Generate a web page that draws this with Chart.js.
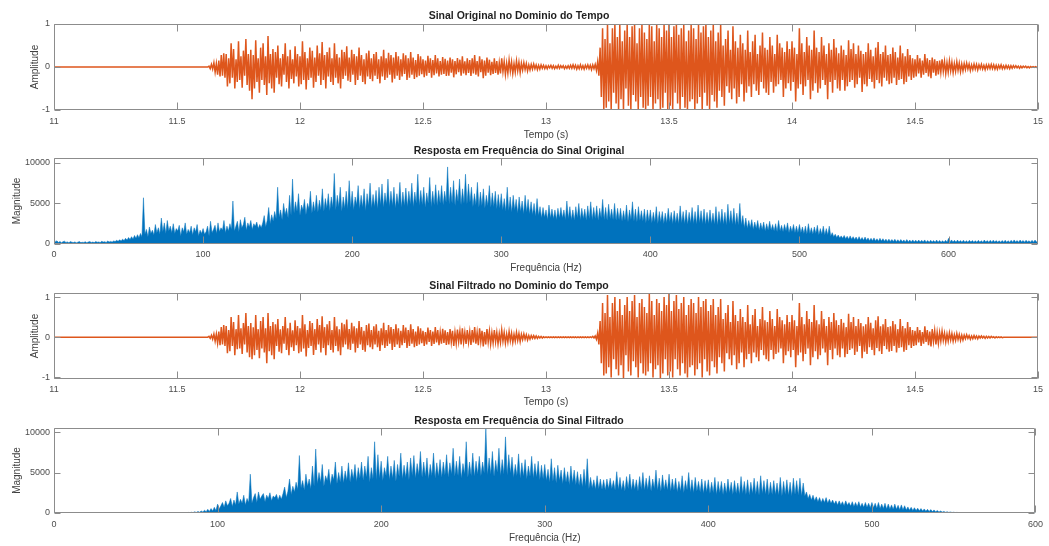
<!DOCTYPE html>
<html>
<head>
<meta charset="utf-8">
<title>Sinal Original e Filtrado</title>
<script src="https://cdn.jsdelivr.net/npm/chart.js@4.4.1/dist/chart.umd.min.js"></script>
<style>
  html, body { margin: 0; padding: 0; background: #fff; }
  #wrap { position: relative; width: 1049px; height: 546px; overflow: hidden; }
  canvas { position: absolute; left: 0; }
</style>
</head>
<body>
<div id="wrap">
  <canvas id="c1" width="1049" height="145" style="top:0px"></canvas>
  <canvas id="c2" width="1049" height="140" style="top:140px"></canvas>
  <canvas id="c3" width="1049" height="135" style="top:275px"></canvas>
  <canvas id="c4" width="1049" height="146" style="top:400px"></canvas>
</div>
<script>
// sample grids (time in s, frequency in Hz)
var tStart = 11, tStep = 0.005;
var fStart = 0, fStep = 1;

// tick labels
var timeTicks = [11, 11.5, 12, 12.5, 13, 13.5, 14, 14.5, 15];
var ampTicks = [-1, 0, 1];
var freqTicks = [0, 100, 200, 300, 400, 500, 600];
var magTicks = [0, 5000, 10000];

// time signal, 11.000 .. 15.000 s
var sinalOriginal = [
  0,0,0,0,0,0,0,0,0,0,0,0,0,0,0,0,0,0,0,0,
  0,0,0,0,0,0,0,0,0,0,0,0,0,0,0,0,0,0,0,0,
  0,0,0,0,0,0,0,0,0,0,0,0,0,0,0,0,0,0,0,0,
  0,0,0,0,0,0,0,0,0,0,0,0,0,0,0,0,0,0,0,0,
  0,0,0,0,0,0,0,0,0,0,0,0,0,0,0,0,0,0,0,0,
  0,0,0,0,0,0,0,0,0,0,0,0,0,0,0,0,0,0,0,0,
  0,0,0,0,0,0,
  0.02,-0.04,0.06,-0.05,0.1,-0.12,0.08,-0.18,0.15,-0.22,0.28,-0.2,0.32,-0.25,
  0.3,-0.45,0.2,-0.38,0.55,-0.25,0.42,-0.5,0.18,-0.35,0.6,-0.3,0.25,-0.48,0.38,-0.2,0.65,-0.42,0.3,-0.55,
  0.4,-0.75,0.28,-0.5,0.62,-0.35,0.2,-0.6,0.45,-0.3,0.55,-0.42,0.25,-0.65,0.72,-0.38,0.3,-0.5,0.42,-0.6,
  0.35,-0.25,0.5,-0.4,0.2,-0.45,0.3,-0.18,0.55,-0.35,0.25,-0.5,0.4,-0.28,0.18,-0.38,0.48,-0.22,0.3,-0.45,
  0.25,-0.4,0.6,-0.3,0.35,-0.52,0.2,-0.3,0.45,-0.25,0.38,-0.48,0.22,-0.35,0.5,-0.2,0.32,-0.42,0.58,-0.3,
  0.28,-0.5,0.35,-0.22,0.45,-0.35,0.2,-0.42,0.55,-0.25,0.3,-0.38,0.22,-0.5,0.4,-0.28,0.35,-0.2,0.48,-0.32,
  0.22,-0.35,0.4,-0.18,0.3,-0.42,0.25,-0.3,0.45,-0.2,0.28,-0.35,0.18,-0.4,0.32,-0.22,0.38,-0.28,0.2,-0.33,
  0.3,-0.2,0.35,-0.28,0.18,-0.38,0.25,-0.22,0.4,-0.3,0.2,-0.25,0.33,-0.18,0.28,-0.36,0.22,-0.27,0.35,-0.2,
  0.25,-0.3,0.18,-0.22,0.32,-0.16,0.27,-0.3,0.2,-0.25,0.35,-0.18,0.22,-0.28,0.16,-0.24,0.3,-0.2,0.25,-0.17,
  0.18,-0.24,0.15,-0.2,0.26,-0.14,0.2,-0.25,0.16,-0.19,0.28,-0.15,0.2,-0.22,0.14,-0.18,0.23,-0.16,0.19,-0.21,
  0.15,-0.2,0.22,-0.13,0.18,-0.24,0.14,-0.17,0.21,-0.12,0.17,-0.2,0.25,-0.15,0.13,-0.19,0.2,-0.14,0.16,-0.21,
  0.2,-0.15,0.28,-0.18,0.14,-0.22,0.25,-0.12,0.18,-0.26,0.15,-0.2,0.22,-0.13,0.17,-0.19,0.12,-0.16,0.2,-0.14,
  0.14,-0.18,0.1,-0.15,0.2,-0.11,0.13,-0.17,0.09,-0.14,0.16,-0.1,0.12,-0.15,0.08,-0.12,0.14,-0.09,0.11,-0.13,
  0.09,-0.07,0.1,-0.06,0.08,-0.09,0.05,-0.07,0.06,-0.05,0.07,-0.04,0.05,-0.06,0.04,-0.05,0.05,-0.03,0.04,-0.04,
  0.03,-0.04,0.03,-0.02,0.04,-0.03,0.03,-0.04,0.02,-0.03,0.04,-0.03,0.03,-0.02,0.03,-0.04,0.02,-0.03,0.03,-0.03,
  0.04,-0.03,0.05,-0.03,0.04,-0.05,0.03,-0.04,0.05,-0.04,0.03,-0.05,0.04,-0.03,0.05,-0.04,0.04,-0.06,0.05,-0.04,
  0.06,-0.08,0.12,-0.2,0.45,-0.7,0.9,-1,0.65,-0.95,1,-0.8,0.55,-1,0.9,-0.6,1,-0.85,0.7,-1,
  1,-0.75,0.6,-1,0.85,-0.5,1,-0.9,0.7,-1,0.95,-0.65,1,-0.8,0.55,-1,0.9,-0.7,1,-0.95,
  0.8,-1,0.65,-0.9,1,-0.7,0.95,-1,0.6,-0.85,1,-0.75,0.9,-1,0.7,-0.95,1,-0.6,0.85,-1,
  1,-0.9,0.7,-1,0.95,-0.6,1,-0.85,0.75,-1,0.9,-0.7,1,-0.95,0.6,-1,0.85,-0.8,1,-0.75,
  0.9,-1,0.65,-0.85,1,-0.7,0.8,-1,0.95,-0.6,1,-0.9,0.7,-1,0.85,-0.65,1,-0.8,0.6,-0.95,
  0.8,-0.55,1,-0.7,0.5,-0.9,0.65,-0.45,0.85,-0.6,0.4,-0.75,0.95,-0.5,0.6,-0.85,0.45,-0.7,0.75,-0.4,
  0.55,-0.8,0.4,-0.6,0.85,-0.45,0.35,-0.7,0.6,-0.4,0.75,-0.55,0.3,-0.65,0.5,-0.35,0.8,-0.5,0.45,-0.6,
  0.4,-0.65,0.7,-0.35,0.5,-0.6,0.3,-0.45,0.75,-0.4,0.55,-0.3,0.45,-0.7,0.35,-0.5,0.6,-0.38,0.42,-0.55,
  0.6,-0.35,0.45,-0.8,0.3,-0.5,0.9,-0.4,0.55,-0.65,0.35,-0.45,0.7,-0.3,0.5,-0.75,0.4,-0.55,0.85,-0.38,
  0.45,-0.6,0.35,-0.5,0.7,-0.3,0.5,-0.42,0.3,-0.75,0.55,-0.35,0.4,-0.6,0.65,-0.3,0.45,-0.5,0.32,-0.55,
  0.5,-0.3,0.4,-0.55,0.28,-0.45,0.62,-0.35,0.42,-0.3,0.55,-0.48,0.3,-0.4,0.5,-0.25,0.38,-0.58,0.3,-0.4,
  0.35,-0.45,0.55,-0.28,0.4,-0.35,0.25,-0.5,0.45,-0.3,0.58,-0.38,0.3,-0.45,0.35,-0.25,0.5,-0.32,0.28,-0.4,
  0.3,-0.38,0.45,-0.25,0.35,-0.42,0.22,-0.3,0.5,-0.28,0.32,-0.4,0.25,-0.35,0.42,-0.22,0.28,-0.3,0.2,-0.25,
  0.18,-0.22,0.28,-0.15,0.2,-0.25,0.15,-0.18,0.3,-0.14,0.2,-0.22,0.16,-0.26,0.22,-0.13,0.18,-0.2,0.14,-0.17,
  0.15,-0.12,0.18,-0.1,0.13,-0.15,0.1,-0.12,0.14,-0.09,0.11,-0.13,0.08,-0.1,0.12,-0.08,0.09,-0.11,0.07,-0.09,
  0.08,-0.06,0.09,-0.05,0.07,-0.08,0.05,-0.06,0.07,-0.05,0.06,-0.07,0.05,-0.04,0.06,-0.05,0.04,-0.06,0.05,-0.04,
  0.05,-0.04,0.06,-0.04,0.05,-0.05,0.04,-0.05,0.04,-0.03,0.05,-0.04,0.03,-0.04,0.04,-0.03,0.03,-0.04,0.03,-0.03,
  0.03,-0.02,0.03,-0.02,0.02,-0.03,0.02,-0.02,0.02,-0.01,0.02,-0.02,0.01,-0.02,0.01,-0.01,0.01,-0.01,0.01,-0.01,
  0
];

var sinalFiltrado = [
  0,0,0,0,0,0,0,0,0,0,0,0,0,0,0,0,0,0,0,0,
  0,0,0,0,0,0,0,0,0,0,0,0,0,0,0,0,0,0,0,0,
  0,0,0,0,0,0,0,0,0,0,0,0,0,0,0,0,0,0,0,0,
  0,0,0,0,0,0,0,0,0,0,0,0,0,0,0,0,0,0,0,0,
  0,0,0,0,0,0,0,0,0,0,0,0,0,0,0,0,0,0,0,0,
  0,0,0,0,0,0,0,0,0,0,0,0,0,0,0,0,0,0,0,0,
  0,0,0,0,0,0,
  0.02,-0.03,0.05,-0.05,0.08,-0.1,0.08,-0.15,0.14,-0.2,0.25,-0.18,0.3,-0.22,
  0.28,-0.4,0.18,-0.35,0.5,-0.22,0.38,-0.45,0.2,-0.3,0.55,-0.28,0.22,-0.42,0.35,-0.18,0.6,-0.38,0.28,-0.5,
  0.35,-0.55,0.25,-0.45,0.55,-0.32,0.2,-0.52,0.4,-0.28,0.5,-0.38,0.22,-0.65,0.6,-0.35,0.28,-0.45,0.38,-0.55,
  0.32,-0.22,0.45,-0.36,0.2,-0.4,0.28,-0.16,0.5,-0.32,0.22,-0.45,0.36,-0.25,0.17,-0.34,0.42,-0.2,0.28,-0.4,
  0.22,-0.36,0.55,-0.28,0.32,-0.48,0.18,-0.27,0.4,-0.22,0.35,-0.44,0.2,-0.32,0.45,-0.18,0.3,-0.38,0.52,-0.27,
  0.25,-0.45,0.32,-0.2,0.4,-0.32,0.18,-0.38,0.5,-0.22,0.27,-0.35,0.2,-0.45,0.36,-0.25,0.32,-0.18,0.44,-0.3,
  0.2,-0.32,0.36,-0.16,0.27,-0.38,0.22,-0.27,0.4,-0.18,0.25,-0.32,0.16,-0.36,0.3,-0.2,0.34,-0.25,0.18,-0.3,
  0.27,-0.18,0.32,-0.25,0.16,-0.34,0.22,-0.2,0.36,-0.27,0.18,-0.22,0.3,-0.16,0.25,-0.32,0.2,-0.24,0.32,-0.18,
  0.22,-0.27,0.16,-0.2,0.3,-0.14,0.24,-0.27,0.18,-0.22,0.32,-0.16,0.2,-0.25,0.14,-0.22,0.27,-0.18,0.22,-0.15,
  0.16,-0.22,0.13,-0.18,0.24,-0.12,0.18,-0.22,0.14,-0.17,0.25,-0.13,0.18,-0.2,0.12,-0.16,0.21,-0.14,0.17,-0.19,
  0.13,-0.18,0.2,-0.12,0.16,-0.22,0.12,-0.15,0.19,-0.11,0.15,-0.18,0.22,-0.13,0.12,-0.17,0.18,-0.12,0.14,-0.19,
  0.18,-0.13,0.25,-0.16,0.12,-0.2,0.22,-0.11,0.16,-0.23,0.13,-0.18,0.2,-0.12,0.15,-0.17,0.11,-0.14,0.18,-0.12,
  0.12,-0.16,0.09,-0.13,0.18,-0.1,0.12,-0.15,0.08,-0.12,0.14,-0.09,0.1,-0.13,0.07,-0.1,0.12,-0.08,0.09,-0.11,
  0.07,-0.06,0.08,-0.05,0.06,-0.07,0.04,-0.05,0.04,-0.03,0.04,-0.03,0.03,-0.03,0.02,-0.02,0.02,-0.02,0.01,-0.01,
  0.01,-0.01,0.01,-0.01,0.01,-0.01,0.01,-0.01,0.01,-0.01,0.01,-0.01,0.01,-0.01,0.01,-0.01,0.01,-0.01,0.01,-0.01,
  0.01,-0.01,0.01,-0.01,0.01,-0.01,0.01,-0.01,0.01,-0.01,0.01,-0.01,0.01,-0.01,0.01,-0.01,0.01,-0.01,0.02,-0.02,
  0.03,-0.05,0.1,-0.18,0.4,-0.65,0.85,-0.95,0.6,-0.9,1.05,-0.75,0.5,-1,0.85,-0.55,1,-0.8,0.65,-0.95,
  0.95,-0.7,0.55,-1.02,0.8,-0.45,1,-0.85,0.65,-0.95,0.9,-0.6,1.05,-0.75,0.5,-1,0.85,-0.65,0.95,-0.9,
  0.75,-0.95,0.6,-0.85,1.08,-0.65,0.9,-1,0.55,-0.8,0.95,-0.7,0.85,-1.02,0.65,-0.9,1,-0.55,0.8,-0.95,
  1.1,-0.85,0.65,-1,0.9,-0.55,1.05,-0.8,0.7,-0.95,0.85,-0.65,1,-0.9,0.55,-1,0.8,-0.75,0.95,-0.7,
  0.85,-0.95,0.6,-0.8,1,-0.65,0.75,-1,0.9,-0.55,0.95,-0.85,0.65,-0.95,0.8,-0.6,0.95,-0.75,0.55,-0.9,
  0.75,-0.5,0.95,-0.65,0.45,-0.85,0.6,-0.4,0.8,-0.55,0.38,-0.7,0.9,-0.45,0.55,-0.8,0.4,-0.65,0.7,-0.38,
  0.5,-0.75,0.38,-0.55,0.8,-0.42,0.32,-0.65,0.55,-0.38,0.7,-0.5,0.28,-0.6,0.45,-0.32,0.75,-0.45,0.42,-0.55,
  0.38,-0.6,0.65,-0.32,0.45,-0.55,0.28,-0.42,0.7,-0.38,0.5,-0.28,0.42,-0.65,0.32,-0.45,0.55,-0.35,0.38,-0.5,
  0.55,-0.32,0.42,-0.75,0.28,-0.45,0.85,-0.38,0.5,-0.6,0.32,-0.42,0.65,-0.28,0.45,-0.7,0.38,-0.5,0.8,-0.35,
  0.42,-0.55,0.32,-0.45,0.65,-0.28,0.45,-0.38,0.28,-0.7,0.5,-0.32,0.38,-0.55,0.6,-0.28,0.42,-0.45,0.3,-0.5,
  0.45,-0.28,0.36,-0.5,0.25,-0.42,0.58,-0.32,0.38,-0.28,0.5,-0.44,0.28,-0.36,0.45,-0.22,0.35,-0.52,0.27,-0.36,
  0.32,-0.42,0.5,-0.25,0.36,-0.32,0.22,-0.45,0.42,-0.27,0.52,-0.35,0.27,-0.42,0.32,-0.22,0.45,-0.3,0.25,-0.36,
  0.27,-0.34,0.4,-0.22,0.32,-0.38,0.2,-0.27,0.45,-0.25,0.28,-0.36,0.22,-0.32,0.38,-0.2,0.25,-0.27,0.18,-0.22,
  0.16,-0.2,0.25,-0.13,0.18,-0.22,0.13,-0.16,0.27,-0.12,0.18,-0.2,0.14,-0.23,0.2,-0.11,0.16,-0.18,0.12,-0.15,
  0.12,-0.1,0.15,-0.08,0.1,-0.12,0.08,-0.1,0.11,-0.07,0.09,-0.1,0.06,-0.08,0.09,-0.06,0.07,-0.08,0.05,-0.07,
  0.05,-0.04,0.06,-0.03,0.04,-0.05,0.03,-0.04,0.04,-0.03,0.03,-0.04,0.03,-0.02,0.03,-0.02,0.02,-0.03,0.02,-0.02,
  0.02,-0.02,0.02,-0.01,0.01,-0.02,0.01,-0.01,0.01,-0.01,0.01,-0.01,0,0,0,0,0,0,0,0,
  0,0,0,0,0,0,0,0,0,0,0,0,0,0,0,0,0,0,0,0,
  0
];

// magnitude spectra, 0 .. 660 Hz and 0 .. 600 Hz
var espectroOriginal = [
  600,250,400,180,320,150,280,350,200,260,150,300,220,180,260,140,230,300,170,210,
  200,280,160,250,300,190,240,170,310,220,260,180,330,240,290,200,360,260,320,240,
  380,300,450,330,520,380,600,420,700,480,800,550,900,620,1050,700,1150,780,1300,900,
  5700,1200,1800,900,2100,1300,1700,1100,2400,1400,2000,1200,3200,1500,2600,1300,2900,1600,2200,1400,
  2500,1300,1900,1600,2300,1000,2000,1500,2600,1200,1800,1400,2200,1100,2000,1500,2400,1000,1700,1300,
  1900,1200,1500,2200,1000,2800,1400,1800,2300,1300,2600,1500,2000,1700,2900,1400,2200,1600,2500,1800,
  5300,1600,2200,2800,1500,3000,2000,2400,3300,1700,2600,2100,2900,1800,2500,2200,2700,1900,2400,2000,
  2600,3500,2100,2900,4500,2500,3600,2800,4000,3100,7000,3300,4200,3000,5000,3600,4400,3200,6000,3500,
  8000,3800,5200,4000,6200,3500,4800,4200,5500,3600,5000,4300,6500,3800,5200,4000,6000,3900,5400,4200,
  6800,4000,5600,4400,6200,4100,5800,4500,8700,4200,6000,4600,7000,4000,5800,4400,6500,4300,7800,4500,
  6500,4200,5800,4800,7200,4300,6000,4500,6800,4100,6200,4700,7500,4400,6100,4600,6600,4300,7000,4800,
  7400,4500,6300,4900,8000,4600,6500,4700,7000,4400,6200,4800,7600,4500,6400,4700,6900,4600,6500,4900,
  7500,4600,6400,5000,8600,4700,6600,4800,7000,4500,6300,5000,8200,4600,6500,4800,7300,4700,6600,5000,
  7200,4800,6500,5100,9500,4900,7000,5000,7800,4700,6700,5200,8000,4800,6800,5000,8600,4900,7400,5100,
  7000,4600,6200,4800,7600,4500,6400,4700,6800,4400,6000,4700,7200,4500,6300,4600,6500,4300,6100,4400,
  6200,4200,5600,4000,7000,4100,5800,3900,6000,4200,5500,3800,5800,4000,5300,3700,6000,3900,5500,3700,
  5200,3600,5000,3400,5600,3500,4600,3200,4500,3300,4200,3000,4800,3200,4300,3100,4200,3000,4400,3200,
  4500,3200,4200,3000,5300,3100,4600,3000,4200,2900,4600,3200,5000,3000,4400,3100,4300,2900,4700,3100,
  5200,3000,4500,3100,4700,2900,4400,3200,5500,3000,4500,2900,4900,3100,4300,3000,5000,2900,4400,3000,
  4400,2800,4100,2900,4800,2700,4200,3000,5200,2800,4300,2700,4600,2900,4100,2800,4300,2600,4200,2800,
  4200,2600,3900,2700,4600,2500,4000,2700,4000,2500,3800,2600,4400,2700,3900,2500,4100,2600,3800,2500,
  4700,2600,4000,2500,4200,2400,3900,2600,4500,2500,4000,2400,4800,2600,4100,2500,4300,2400,3900,2500,
  4200,2500,3800,2400,4600,2300,4000,2500,4300,2400,3900,2300,4900,2500,4100,2400,4400,2300,3800,2300,
  5000,2300,3500,2000,3200,1900,2900,2000,3000,1800,2700,1900,2900,1700,2600,1800,2700,1600,2500,1700,
  2800,1700,2400,1600,2500,1500,2900,1600,2300,1500,2400,1600,2600,1400,2200,1500,2400,1400,2200,1400,
  2400,1400,2100,1300,2200,1200,2500,1300,2000,1200,2100,1300,2300,1100,1900,1200,2200,1100,1900,1100,
  2200,1000,1400,900,1200,800,1100,750,1000,700,1050,650,950,600,1000,600,900,550,850,500,
  900,500,800,450,850,450,750,400,700,400,750,380,650,350,700,360,650,330,600,320,
  600,320,550,300,580,290,520,280,550,270,500,260,540,260,480,250,500,240,470,240,
  480,250,450,240,500,230,430,220,460,240,420,220,480,230,440,220,400,210,450,220,
  700,260,500,240,450,230,480,240,420,220,460,230,400,220,450,240,430,220,410,210,
  450,230,400,220,480,240,420,210,450,230,470,240,420,220,400,210,430,220,460,230,
  400,220,450,230,500,240,420,220,480,250,430,230,460,240,410,220,450,230,480,260,
  400
];

var espectroFiltrado = [
  30,10,20,10,20,10,20,10,20,10,20,10,20,10,20,10,20,10,20,10,
  30,10,20,10,20,10,20,10,20,10,20,10,20,10,20,10,20,10,20,10,
  30,10,20,10,20,10,20,10,20,10,20,10,20,10,20,10,20,10,20,10,
  20,10,30,10,20,10,30,10,30,10,30,10,30,15,40,15,40,15,40,20,
  60,30,80,40,100,50,150,70,200,100,250,120,350,150,450,200,550,250,700,300,
  1100,500,900,1300,700,1500,900,1200,1800,800,1600,1000,2600,1100,1700,1200,2200,1000,1800,1300,
  4800,1200,1900,2400,1300,2600,1700,2100,2400,1400,2200,1800,2500,1500,2100,1900,2300,1600,2200,1700,
  2400,3200,1900,2700,4200,2300,3300,2600,3800,2900,7100,3100,4000,2800,4800,3300,4200,3000,5800,3300,
  7900,3600,5000,3800,6000,3300,4600,4000,5400,3400,4800,4100,6300,3600,5000,3800,5800,3700,5200,4000,
  6200,3800,5400,4200,6000,3900,5600,4300,6300,4000,5800,4400,7000,3800,5600,4200,8800,4100,7200,4300,
  6400,4000,5600,4600,7000,4100,5800,4300,6500,3900,6000,4500,7400,4200,5900,4400,6300,4100,6800,4600,
  7100,4300,6100,4700,7600,4400,6300,4500,6800,4200,6000,4600,7400,4300,6200,4500,6600,4400,6300,4700,
  7200,4400,6200,4800,8000,4500,6400,4600,7000,4300,6100,4800,8800,4400,6300,4600,7400,4500,6400,4800,
  7000,4600,6300,4900,10500,4700,6800,4800,7600,4500,6500,5000,8000,4600,6600,4800,9400,4700,7200,4900,
  6900,4400,6000,4600,7300,4300,6200,4500,6600,4200,5800,4500,7000,4300,6100,4400,6400,4100,5900,4200,
  6000,4000,5400,3800,6700,3900,5600,3700,5900,4000,5300,3600,5600,3800,5100,3500,5800,3700,5300,3500,
  5100,3400,4800,3200,5400,3300,6700,3000,4400,3100,4100,2900,4600,3000,4200,2900,4100,2800,4200,3000,
  4300,3000,4000,2800,5100,2900,4400,2800,4000,2700,4500,3000,4800,2800,4200,2900,4100,2700,4500,2900,
  5000,2800,4300,2900,4600,2700,4200,3000,5300,2800,4300,2700,4700,2900,4100,2800,4800,2700,4200,2800,
  4300,2600,3900,2700,4600,2500,4000,2800,5000,2600,4100,2500,4400,2700,3900,2600,4200,2400,4000,2600,
  4100,2400,3800,2500,4400,2300,3900,2500,3900,2300,3700,2400,4200,2500,3800,2300,4000,2400,3700,2300,
  4500,2400,3900,2300,4100,2200,3800,2400,4300,2300,3900,2200,4600,2400,4000,2300,4200,2200,3800,2300,
  4000,2300,3700,2200,4400,2100,3900,2300,4100,2200,3800,2100,4300,2300,4000,2200,4300,2100,3700,2100,
  2600,1800,2300,1600,2200,1500,2000,1400,1900,1300,1800,1300,1900,1200,1700,1200,1600,1100,1500,1000,
  1500,1000,1400,900,1500,950,1300,850,1400,800,1300,800,1400,750,1200,700,1300,700,1200,650,
  1300,650,1200,600,1300,550,1100,550,1200,500,1100,500,1000,450,1100,450,950,400,1000,400,
  900,380,750,350,700,320,650,300,600,280,550,250,500,220,450,200,420,180,380,160,
  300,130,250,110,200,90,160,70,130,60,100,50,80,40,60,30,50,25,40,20,
  30,15,30,15,25,10,25,10,20,10,20,10,20,10,20,10,20,10,20,10,
  20,10,20,10,20,10,20,10,20,10,20,10,20,10,20,10,20,10,20,10,
  10
];

var ORANGE = '#DE561C', BLUE = '#0072BD';
var FONT = '"Liberation Sans", Arial, Helvetica, sans-serif';
Chart.defaults.font.family = FONT;

function toPoints(values, start, step) {
  return values.map(function (v, i) { return { x: start + i * step, y: v }; });
}

// MATLAB style box with inward ticks on all four sides
var boxPlugin = {
  id: 'matlabBox',
  afterDatasetsDraw: function (chart) {
    var a = chart.chartArea, ctx = chart.ctx, x = chart.scales.x, y = chart.scales.y;
    var L = Math.round(a.left) + 0.5, R = Math.round(a.right) - 0.5;
    var T = Math.round(a.top) + 0.5, B = Math.round(a.bottom) - 0.5;
    ctx.save();
    ctx.strokeStyle = '#8c8c8c';
    ctx.lineWidth = 1;
    ctx.beginPath();
    ctx.rect(L, T, R - L, B - T);
    x.ticks.forEach(function (t) {
      var px = Math.round(x.getPixelForValue(t.value)) + 0.5;
      ctx.moveTo(px, B); ctx.lineTo(px, B - 7);
      ctx.moveTo(px, T); ctx.lineTo(px, T + 7);
    });
    y.ticks.forEach(function (t) {
      var py = Math.round(y.getPixelForValue(t.value)) + 0.5;
      ctx.moveTo(L, py); ctx.lineTo(L + 6, py);
      ctx.moveTo(R, py); ctx.lineTo(R - 6, py);
    });
    ctx.stroke();
    ctx.restore();
  }
};

function makePlot(id, c) {
  return new Chart(document.getElementById(id), {
    type: 'line',
    data: {
      datasets: [{
        data: c.points,
        borderColor: c.color,
        backgroundColor: c.color,
        borderWidth: c.lw,
        fill: c.fill ? 'origin' : false,
        pointRadius: 0,
        tension: 0
      }]
    },
    options: {
      responsive: false,
      animation: false,
      events: [],
      layout: { padding: { left: 0, right: 11, top: 0, bottom: 0 } },
      plugins: {
        legend: { display: false },
        tooltip: { enabled: false },
        title: {
          display: true, text: c.title, color: '#1f1f1f',
          font: { size: 10.5, weight: 'bold', lineHeight: '12px' },
          padding: c.titlePad
        }
      },
      scales: {
        x: {
          type: 'linear', min: c.xmin, max: c.xmax,
          grid: { display: false, drawTicks: false },
          border: { display: false },
          afterBuildTicks: function (s) { s.ticks = c.xTicks.map(function (v) { return { value: v }; }); },
          afterFit: function (s) { s.height = c.xh; },
          ticks: { autoSkip: false, maxRotation: 0, padding: c.xpad, font: { size: 9 }, color: '#4d4d4d',
                   callback: function (v) { return String(v); } },
          title: { display: true, text: c.xlabel, color: '#404040', font: { size: 10, lineHeight: '12px' },
                   padding: { top: 0, bottom: c.xlPad } }
        },
        y: {
          min: c.ymin, max: c.ymax,
          grid: { display: false, drawTicks: false },
          border: { display: false },
          afterBuildTicks: function (s) { s.ticks = c.yTicks.map(function (v) { return { value: v }; }); },
          afterFit: function (s) { s.width = 54; },
          ticks: { padding: 4, font: { size: 9 }, color: '#4d4d4d',
                   callback: function (v) { return String(v); } },
          title: { display: true, text: c.ylabel, color: '#404040', font: { size: 10, lineHeight: '12px' },
                   padding: { top: c.ylPad, bottom: 0 } }
        }
      }
    },
    plugins: [boxPlugin]
  });
}

makePlot('c1', {
  points: toPoints(sinalOriginal, tStart, tStep), color: ORANGE, lw: 1.5, fill: false,
  title: 'Sinal Original no Dominio do Tempo', titlePad: { top: 10, bottom: 2 },
  xmin: 11, xmax: 15, xTicks: timeTicks, xh: 35, xpad: 6, xlabel: 'Tempo (s)', xlPad: 4,
  ymin: -1, ymax: 1, yTicks: ampTicks, ylabel: 'Amplitude', ylPad: 29
});

makePlot('c2', {
  points: toPoints(espectroOriginal, fStart, fStep), color: BLUE, lw: 0.5, fill: true,
  title: 'Resposta em Frequência do Sinal Original', titlePad: { top: 5, bottom: 1 },
  xmin: 0, xmax: 660, xTicks: freqTicks, xh: 36, xpad: 5, xlabel: 'Frequência (Hz)', xlPad: 6,
  ymin: 0, ymax: 10600, yTicks: magTicks, ylabel: 'Magnitude', ylPad: 11
});

makePlot('c3', {
  points: toPoints(sinalFiltrado, tStart, tStep), color: ORANGE, lw: 1.5, fill: false,
  title: 'Sinal Filtrado no Dominio do Tempo', titlePad: { top: 5, bottom: 1 },
  xmin: 11, xmax: 15, xTicks: timeTicks, xh: 31, xpad: 5, xlabel: 'Tempo (s)', xlPad: 2,
  ymin: -1.04, ymax: 1.1, yTicks: ampTicks, ylabel: 'Amplitude', ylPad: 29
});

makePlot('c4', {
  points: toPoints(espectroFiltrado, fStart, fStep), color: BLUE, lw: 0.5, fill: true,
  title: 'Resposta em Frequência do Sinal Filtrado', titlePad: { top: 15, bottom: 1 },
  xmin: 0, xmax: 600, xTicks: freqTicks, xh: 33, xpad: 6, xlabel: 'Frequência (Hz)', xlPad: 2,
  ymin: 0, ymax: 10500, yTicks: magTicks, ylabel: 'Magnitude', ylPad: 11
});
</script>
</body>
</html>
